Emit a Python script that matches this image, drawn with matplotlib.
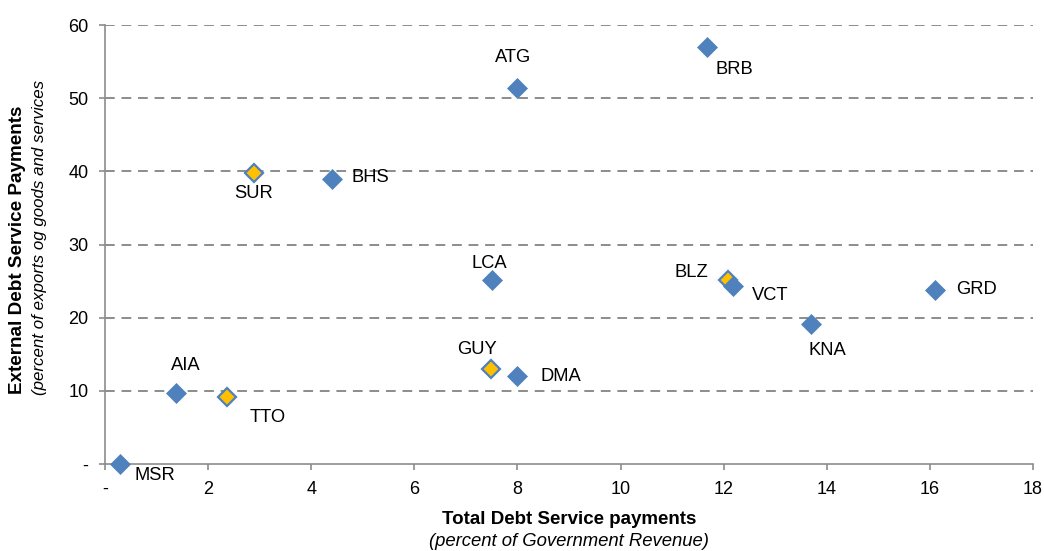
import matplotlib
matplotlib.use("Agg")
import matplotlib.pyplot as plt

plt.rcParams['font.family'] = ['Liberation Sans', 'DejaVu Sans']

countries = ["MSR", "AIA", "TTO", "SUR", "BHS", "ATG", "BRB", "LCA", "GUY", "DMA", "BLZ", "VCT", "KNA", "GRD"]
total_debt = [0.29, 1.38, 2.37, 2.89, 4.40, 7.99, 11.67, 7.50, 7.49, 7.99, 12.08, 12.18, 13.69, 16.09]
external_debt = [0.0, 9.7, 9.15, 39.75, 38.9, 51.4, 57.0, 25.1, 13.0, 12.0, 25.1, 24.3, 19.1, 23.8]
highlight = [False, False, True, True, False, False, False, False, True, False, True, False, False, False]
# label offsets (points)
label_offsets = {
    "MSR": (25, -8), "AIA": (7, 20), "TTO": (29, -15), "SUR": (0, -15), "BHS": (28, 1),
    "ATG": (-3, 22), "BRB": (20, -16), "LCA": (-2, 12), "GUY": (-10, 14), "DMA": (32, 0),
    "BLZ": (-26.5, 6), "VCT": (27, -7), "KNA": (12, -19), "GRD": (30, 0),
}
x_ticks = [0, 2, 4, 6, 8, 10, 12, 14, 16, 18]
y_ticks = [0, 10, 20, 30, 40, 50, 60]

blue = "#4F81BD"
gold = "#FFC000"

fig = plt.figure(figsize=(10.44, 5.51), dpi=100)
ax = fig.add_axes([105/1044, 1-464/551, (1033-105)/1044, (464-25)/551])

ax.set_xlim(0, 18)
ax.set_ylim(0, 60)
ax.set_xticks(x_ticks)
ax.set_yticks(y_ticks)
ax.set_xticklabels(["-" if v == 0 else str(v) for v in x_ticks])
ax.set_yticklabels(["-" if v == 0 else str(v) for v in y_ticks])

for y in y_ticks[1:]:
    ax.axhline(y, color="#8C8C8C", linewidth=1.4, linestyle=(0, (5, 3.5)), zorder=1)

for sp in ["top", "right"]:
    ax.spines[sp].set_visible(False)
for sp in ["left", "bottom"]:
    ax.spines[sp].set_color("#8C8C8C")
    ax.spines[sp].set_linewidth(1.2)
ax.tick_params(axis="both", direction="out", length=4, color="#8C8C8C", width=1.2,
               labelsize=13, labelcolor="black")
ax.tick_params(axis="x", pad=8)
ax.tick_params(axis="y", pad=8)

for c, x, y, h in zip(countries, total_debt, external_debt, highlight):
    if h:
        ax.plot(x, y, marker="D", markersize=9.5, markerfacecolor=gold,
                markeredgecolor=blue, markeredgewidth=1.6, linestyle="none", zorder=3, clip_on=False)
    else:
        ax.plot(x, y, marker="D", markersize=10.5, markerfacecolor=blue,
                markeredgecolor=blue, markeredgewidth=0.5, linestyle="none", zorder=3, clip_on=False)
    dx, dy = label_offsets[c]
    ax.annotate(c, (x, y), xytext=(dx, dy), textcoords="offset points",
                ha="center", va="center", fontsize=13.2, zorder=4)

fig.text(569/1044, 1-520/551, "Total Debt Service payments", ha="center", va="center",
         fontsize=13.5, fontweight="bold")
fig.text(569/1044, 1-541/551, "(percent of Government Revenue)", ha="center", va="center",
         fontsize=13.3, fontstyle="italic")
fig.text(18/1044, 1-250/551, "External Debt Service Payments", ha="center", va="center",
         rotation=90, fontsize=13.6, fontweight="bold")
fig.text(40/1044, 1-237/551, "(percent of exports og goods and services", ha="center", va="center",
         rotation=90, fontsize=12.2, fontstyle="italic")

fig.savefig("out.png", dpi=100)
